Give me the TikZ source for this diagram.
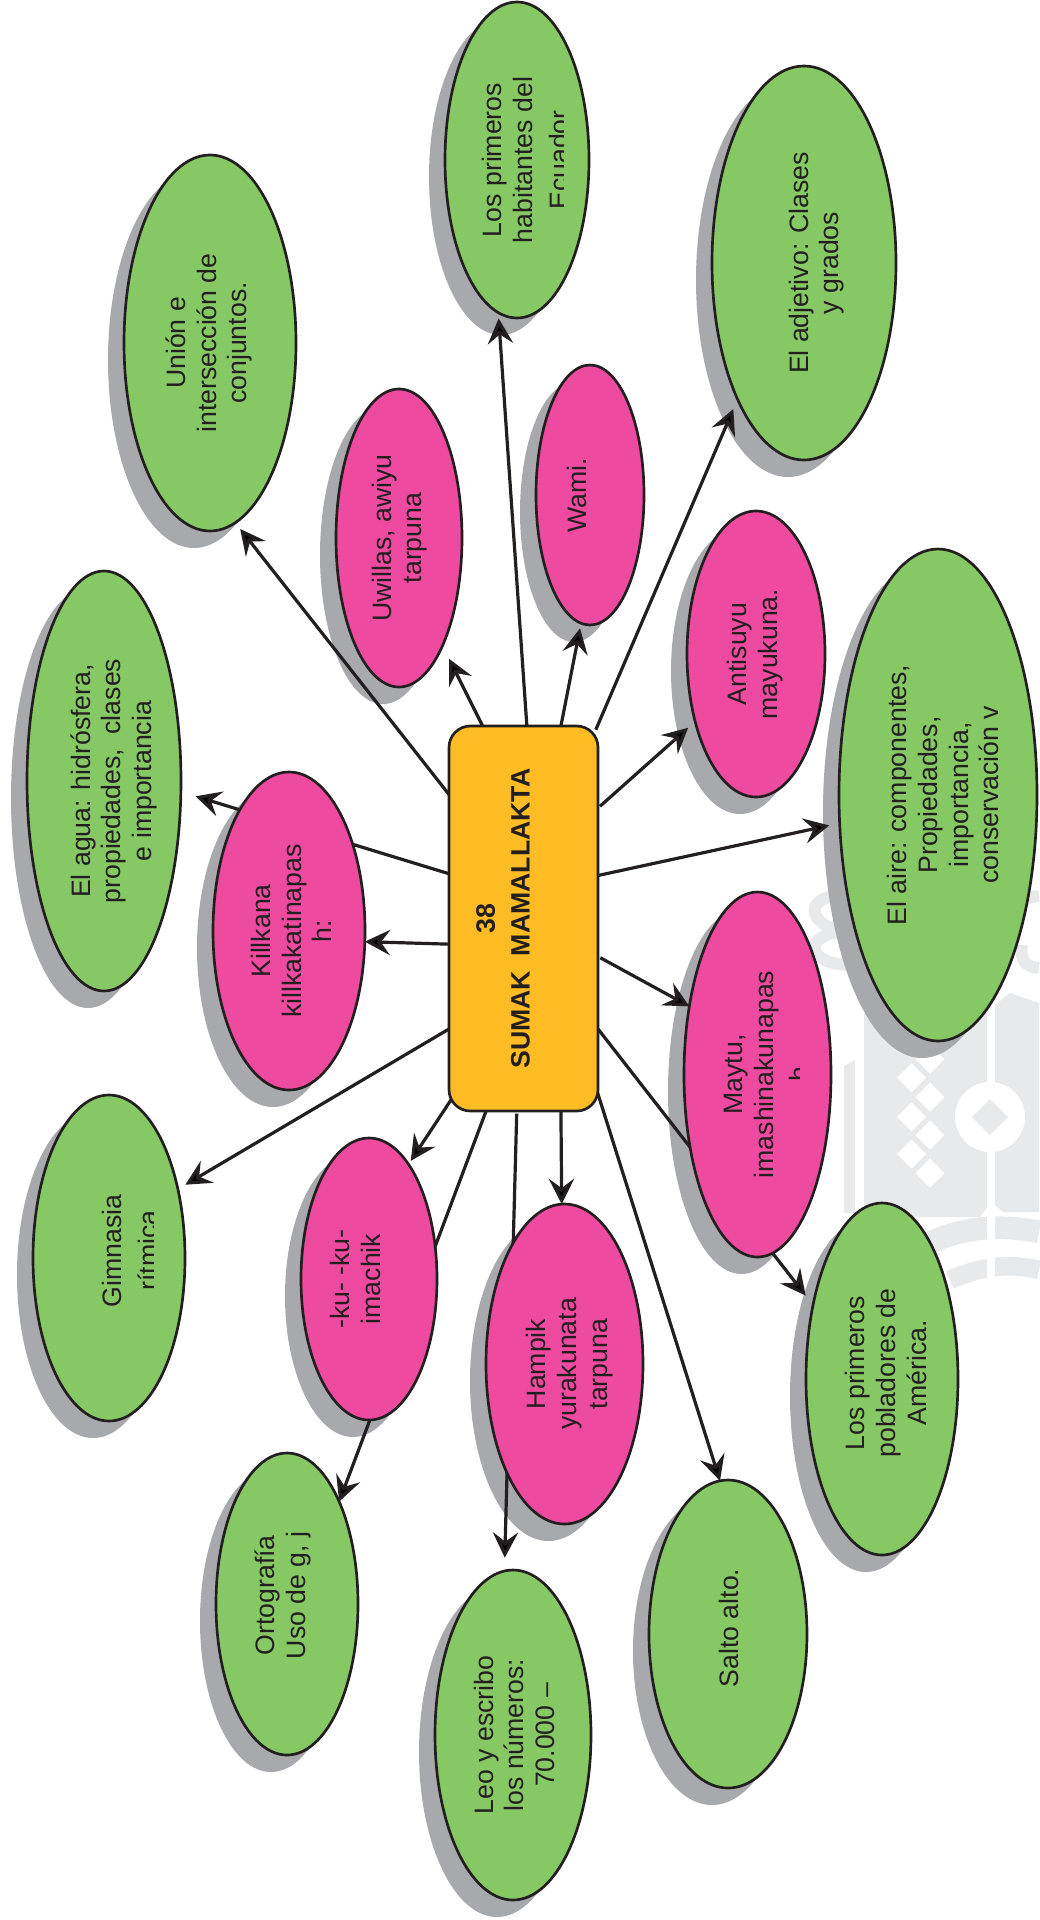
\documentclass[tikz,border=0pt]{standalone}
\usepackage{fontspec}
\setmainfont{Liberation Sans}
\usepackage{graphicx}
\usetikzlibrary{arrows.meta,shapes.geometric}
\definecolor{leafcol}{HTML}{86C864}
\definecolor{rosecol}{HTML}{EE4A9F}
\definecolor{goldcol}{HTML}{FDBB24}
\definecolor{shadecol}{HTML}{A7A9AC}
\definecolor{inkcol}{HTML}{231F20}
\definecolor{markcol}{HTML}{E8E9EA}
\pgfdeclarelayer{back}
\pgfdeclarelayer{shade}
\pgfdeclarelayer{wires}
\pgfsetlayers{back,shade,wires,main}
\tikzset{
	blob/.style={ellipse,draw=inkcol,line width=2pt,inner sep=0pt,outer sep=0pt,text=inkcol,font=\fontsize{20}{23}\selectfont},
	hubbox/.style={rectangle,rounded corners=16pt,draw=inkcol,line width=2pt,fill=goldcol,inner sep=0pt,outer sep=0pt,text=inkcol,font=\fontsize{20}{23}\selectfont\bfseries},
	wire/.style={draw=inkcol,line width=2.4pt},
	arw/.style={wire,-{Stealth[length=19pt,width=19pt,inset=7pt]}}
}
\def\vtext#1#2{\rotatebox{90}{\hspace*{#1}\begin{tabular}{@{}c@{}}#2\end{tabular}}}
\def\cutline#1#2#3{\tikz[baseline=0pt]{\clip (-#2,#3) rectangle (#2,20pt); \node[rectangle,draw=none,fill=none,minimum width=0pt,minimum height=0pt,inner sep=0pt,anchor=base] at (0,0) {#1};}}
\def\bubble[#1](#2)(#3,#4)(#5,#6)(#7,#8)#9{
	\begin{pgfonlayer}{shade}
		\fill[shadecol] (#3-16,#4+17) ellipse ({#5} and {#6});
	\end{pgfonlayer}
	\node[blob,fill=#1,minimum width={1.5*#5 pt},minimum height={1.5*#6 pt}] (#2) at (#3,#4) {\makebox[0pt]{\hspace*{#7}\vtext{#8}{#9}}};
}

\begin{document}
\begin{tikzpicture}[x=0.75pt,y=-0.75pt]
	\useasboundingbox (0,0) rectangle (1039,1920);
	%%%%% WATERMARK %%%%%
	\begin{pgfonlayer}{back}
		\fill[markcol] (864,1013) -- (987,1013) -- (987,1208) -- (980,1217) -- (864,1217) -- cycle;
		\fill[markcol] (995,1005) -- (1010,993) -- (1039,1003) -- (1039,1212) -- (1003,1212) -- (995,1205) -- cycle;
		\fill[markcol] (844,1066) -- (855,1060) -- (855,1213) -- (844,1213) -- cycle;
		\fill[white] (990,1117) circle (35);
		\fill[markcol] (990,1099) -- (1008,1117) -- (990,1135) -- (972,1117) -- cycle;
		\foreach \mx/\my in {911.7/1077.7,930/1097,911.7/1116.7,930/1135,911.7/1154,930/1173,930/1059}
			\fill[white] (\mx,\my-14.5) -- (\mx+14.5,\my) -- (\mx,\my+14.5) -- (\mx-14.5,\my) -- cycle;
		\draw[markcol,line width=17pt] (925,1245) .. controls (965,1225) and (1005,1225) .. (1039,1232);
		\draw[markcol,line width=14pt] (950,1280) .. controls (985,1264) and (1015,1264) .. (1039,1270);
		\draw[white,line width=6pt] (991,1215) -- (991,1285);
		\draw[markcol,line width=9pt] (853,896) .. controls (800,890) and (805,930) .. (850,931) .. controls (800,932) and (805,966) .. (853,965);
		\draw[markcol,line width=9pt] (1039,896) .. controls (1025,897) and (1020,900) .. (1020,915);
		\draw[markcol,line width=9pt] (1039,968) .. controls (1025,967) and (1020,960) .. (1022,945);
	\end{pgfonlayer}
	%%%%% HUB %%%%%
	\node[hubbox,minimum width=111.75pt,minimum height=288.75pt] (hub) at (523.5,918.5)
		{\rotatebox{90}{\begin{tabular}{@{}c@{}}38\\[3pt]SUMAK\ \ MAMALLAKTA\end{tabular}}\hspace*{26pt}};
	%%%%% BUBBLES %%%%%
	\bubble[leafcol](union)(210,343)(86,188)(0pt,0pt){Unión e\\intersección de\\conjuntos.}
	\bubble[leafcol](habitantes)(517,160)(72,158)(18pt,0pt){Los primeros\\habitantes del\\\cutline{Ecuador}{40pt}{3.6pt}}
	\bubble[leafcol](adjetivo)(804,263)(92,197)(20pt,0pt){El adjetivo: Clases\\y grados}
	\bubble[rosecol](uwillas)(399,538)(63,149)(2pt,0pt){Uwillas, awiyu\\tarpuna}
	\bubble[rosecol](wami)(590,495)(54,130)(-15pt,0pt){Wami.}
	\bubble[rosecol](antisuyu)(756,654)(69,143)(0pt,0pt){Antisuyu\\mayukuna.}
	\bubble[leafcol](aire)(938,795)(99,246)(13pt,0pt){El aire: componentes,\\Propiedades,\\importancia,\\conservación v}
	\bubble[leafcol](agua)(104,781)(77,210)(16pt,0pt){El agua: hidrósfera,\\propiedades,\ \ clases\\e importancia}
	\bubble[rosecol](killkana)(289,931)(76,159)(9pt,0pt){Killkana\\killkakatinapas\\h:}
	\bubble[rosecol](maytu)(757.5,1074.5)(73.5,182.5)(18pt,0pt){Maytu,\\imashinakunapas\\\cutline{h}{6pt}{6.8pt}}
	\bubble[leafcol](pobladores)(882,1379)(76,176)(11pt,9pt){Los primeros\\pobladores de\\América.}
	\bubble[leafcol](gimnasia)(109,1258)(76,163)(37pt,11pt){Gimnasia\\\cutline{rítmica}{32pt}{3pt}}
	\bubble[rosecol](kuku)(369,1279)(68,141)(-15pt,0pt){-ku- -ku-\\imachik}
	\bubble[rosecol](hampik)(564.5,1364)(78.5,160)(9pt,0pt){Hampik\\yurakunata\\tarpuna}
	\bubble[leafcol](ortografia)(287,1604)(71,151)(-5pt,13pt){Ortografía\\Uso de g, j}
	\bubble[leafcol](leo)(513,1735)(78,165)(7pt,0pt){Leo y escribo\\los números:\\70.000 --}
	\bubble[leafcol](salto)(728,1634)(79,154)(7pt,9pt){Salto alto.}
	%%%%% CONNECTORS %%%%%
	\begin{pgfonlayer}{wires}
		\draw[arw,shorten <=2pt,shorten >=7pt] (hub.56.3) -- (antisuyu.-132.7);
		\draw[arw,shorten >=8pt] (hub.30.8) -- (aire.-164.6);
		\draw[arw,shorten <=2pt] (hub.-27.6) -- (maytu.135);
		\draw[arw,shorten >=9pt] (hub.-56) -- (pobladores.133);
		\draw[arw,shorten <=-3pt] (hub.-67.7) -- (salto.93.7);
		\draw[arw] (hub.-79) -- (hampik.91);
		\draw[arw,shorten <=2pt,shorten >=10pt] (hub.-92.2) -- (leo.93.4);
		\draw[arw] (hub.-101.8) -- (ortografia.63.3);
		\draw[arw,shorten <=-3pt,shorten >=3pt] (hub.-112.7) -- (kuku.71.4);
		\draw[arw,shorten >=6.5pt] (hub.-124) -- (gimnasia.45);
		\draw[arw] (hub.-161.8) -- (killkana.-8.7);
		\draw[arw,shorten >=11.5pt] (hub.149.2) -- (agua.-8.7);
		\draw[arw,shorten >=6pt] (hub.121.5) -- (union.-82.1);
		\draw[arw,shorten >=11pt] (hub.102.9) -- (uwillas.-68.7);
		\draw[arw,shorten >=4.4pt] (hub.89.7) -- (habitantes.-97.2);
		\draw[arw,shorten >=3.9pt] (hub.79.3) -- (wami.-94.3);
		\draw[arw,shorten <=-3pt,shorten >=8pt] (hub.69.6) -- (adjetivo.-116.6);
	\end{pgfonlayer}
\end{tikzpicture}
\end{document}
